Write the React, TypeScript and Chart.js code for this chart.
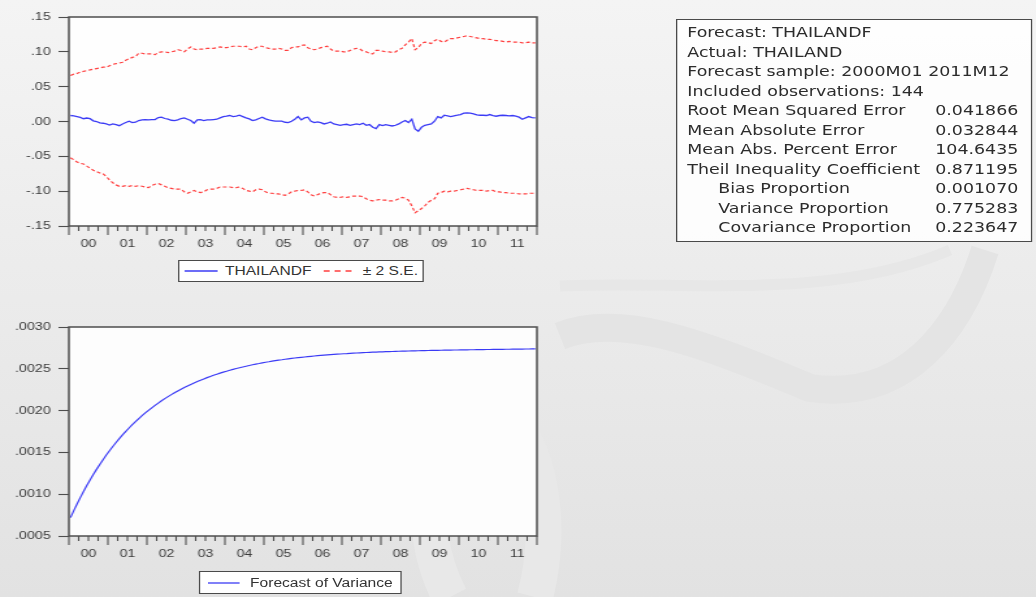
import React, { useEffect, useRef } from 'react';
import { Chart, registerables } from 'chart.js';

Chart.register(...registerables);

const STRETCH = 1.3;
const FONT = "'Liberation Sans', Arial, Helvetica, sans-serif";
const TEXT_FONT = "'DejaVu Sans', Verdana, sans-serif";

// ---- data (monthly, 2000M01 .. 2011M12) ----
const yearLabels = ['00', '01', '02', '03', '04', '05', '06', '07', '08', '09', '10', '11'];
const monthsPerYear = 12;
const monthsPerMinorTick = 3;

const forecast = [
  0.0086, 0.008, 0.007, 0.006, 0.004, 0.005, 0.004, 0.001, 0.0, -0.002, -0.0025, -0.0035,
  -0.005, -0.0035, -0.0045, -0.006, -0.0035, -0.0015, 0.0004, -0.0015, -0.001, 0.0014, 0.0023, 0.0028,
  0.0023, 0.0028, 0.0028, 0.0057, 0.0062, 0.0043, 0.0033, 0.0018, 0.0014, 0.0023, 0.0043, 0.0052,
  0.0033, 0.0014, -0.0025, 0.0023, 0.0028, 0.0014, 0.0023, 0.0023, 0.0028, 0.0033, 0.0052, 0.0071,
  0.0076, 0.0086, 0.0071, 0.0076, 0.009, 0.0071, 0.0052, 0.0038, 0.0014, 0.0023, 0.0043, 0.0062,
  0.0038, 0.0023, 0.0014, 0.0004, 0.0004, 0.0004, -0.0011, -0.0016, 0.0004, 0.0033, 0.0071, 0.0023,
  0.0052, 0.0062, 0.0004, -0.0016, -0.0006, -0.0016, -0.0035, -0.0025, -0.0006, -0.0035, -0.0044, -0.0054,
  -0.0044, -0.004, -0.0054, -0.0044, -0.0035, -0.0044, -0.0025, -0.0054, -0.0044, -0.0083, -0.0102, -0.0044,
  -0.0059, -0.0044, -0.0054, -0.0064, -0.0054, -0.0035, -0.0006, 0.0014, -0.0016, 0.0033, -0.0107, -0.014,
  -0.0083, -0.0054, -0.0044, -0.0035, 0.0004, 0.0071, 0.0052, 0.009, 0.0081, 0.0071, 0.0081, 0.009,
  0.01, 0.0119, 0.0124, 0.0119, 0.011, 0.0095, 0.009, 0.009, 0.0086, 0.01, 0.0086, 0.0076,
  0.0086, 0.009, 0.0086, 0.0081, 0.0086, 0.0076, 0.0062, 0.0033, 0.0052, 0.0071, 0.0057, 0.0052,
];

const upperBand = [
  0.066, 0.068, 0.069, 0.071, 0.072, 0.073, 0.074, 0.075, 0.076, 0.077, 0.078, 0.078,
  0.08, 0.082, 0.083, 0.084, 0.085, 0.088, 0.09, 0.092, 0.093, 0.098, 0.098, 0.097,
  0.097, 0.097, 0.096, 0.099, 0.1, 0.1, 0.099, 0.1, 0.101, 0.103, 0.102, 0.1,
  0.104, 0.107, 0.104, 0.103, 0.104, 0.104, 0.105, 0.105, 0.105, 0.106, 0.107, 0.106,
  0.106, 0.107, 0.108, 0.108, 0.108, 0.107, 0.108, 0.104, 0.103, 0.106, 0.108, 0.108,
  0.106, 0.105, 0.104, 0.104, 0.105, 0.104, 0.102, 0.102, 0.106, 0.107, 0.107, 0.109,
  0.11, 0.106, 0.104, 0.103, 0.104, 0.106, 0.107, 0.108, 0.104, 0.101, 0.101, 0.101,
  0.1, 0.1, 0.102, 0.104, 0.105, 0.104, 0.101, 0.1, 0.098, 0.097, 0.102, 0.102,
  0.101, 0.1, 0.1, 0.099, 0.1, 0.103, 0.105, 0.11, 0.114, 0.119, 0.103, 0.106,
  0.112, 0.114, 0.113, 0.112, 0.116, 0.118, 0.115, 0.114, 0.117, 0.119, 0.119, 0.12,
  0.121, 0.122, 0.123, 0.122, 0.121, 0.12, 0.119, 0.119, 0.118, 0.118, 0.117, 0.116,
  0.116, 0.115, 0.114, 0.115, 0.114, 0.114, 0.114, 0.113, 0.113, 0.114, 0.113, 0.113,
];

const lowerBand = [
  -0.052, -0.055, -0.058, -0.06, -0.061, -0.064, -0.067, -0.07, -0.072, -0.074, -0.075, -0.079,
  -0.084, -0.088, -0.091, -0.093, -0.093, -0.092, -0.093, -0.092, -0.093, -0.092, -0.093, -0.094,
  -0.095, -0.092, -0.09, -0.089, -0.091, -0.093, -0.095, -0.096, -0.097, -0.097, -0.097, -0.101,
  -0.103, -0.101, -0.099, -0.101, -0.102, -0.101, -0.098, -0.097, -0.097, -0.096, -0.094, -0.094,
  -0.094, -0.094, -0.095, -0.095, -0.094, -0.096, -0.099, -0.1, -0.101, -0.098, -0.097, -0.098,
  -0.101, -0.103, -0.103, -0.104, -0.104, -0.105, -0.106, -0.104, -0.101, -0.1, -0.099, -0.099,
  -0.098, -0.101, -0.105, -0.107, -0.105, -0.103, -0.102, -0.102, -0.105, -0.108, -0.109, -0.109,
  -0.108, -0.109, -0.108, -0.107, -0.107, -0.107, -0.108, -0.111, -0.113, -0.114, -0.113, -0.112,
  -0.113, -0.113, -0.114, -0.114, -0.113, -0.111, -0.109, -0.11, -0.113, -0.121, -0.131, -0.128,
  -0.125, -0.121, -0.116, -0.113, -0.111, -0.103, -0.102, -0.1, -0.101, -0.1, -0.1, -0.099,
  -0.098, -0.097, -0.096, -0.097, -0.098, -0.099, -0.099, -0.099, -0.1, -0.099, -0.099, -0.101,
  -0.101, -0.102, -0.102, -0.103, -0.103, -0.103, -0.104, -0.104, -0.104, -0.103, -0.103, -0.103,
];

const forecastVariance = [
  0.00072, 0.000803, 0.000883, 0.000959, 0.001033, 0.001103, 0.00117, 0.001235, 0.001297, 0.001356, 0.001413, 0.001468,
  0.00152, 0.00157, 0.001618, 0.001665, 0.001709, 0.001751, 0.001792, 0.001831, 0.001868, 0.001904, 0.001939, 0.001972,
  0.002003, 0.002033, 0.002062, 0.00209, 0.002117, 0.002143, 0.002167, 0.002191, 0.002213, 0.002235, 0.002256, 0.002276,
  0.002295, 0.002313, 0.002331, 0.002348, 0.002364, 0.002379, 0.002394, 0.002408, 0.002422, 0.002435, 0.002448, 0.00246,
  0.002471, 0.002482, 0.002493, 0.002503, 0.002513, 0.002522, 0.002531, 0.00254, 0.002548, 0.002556, 0.002563, 0.002571,
  0.002578, 0.002584, 0.002591, 0.002597, 0.002603, 0.002608, 0.002614, 0.002619, 0.002624, 0.002629, 0.002633, 0.002637,
  0.002641, 0.002645, 0.002649, 0.002653, 0.002657, 0.00266, 0.002663, 0.002666, 0.002669, 0.002672, 0.002675, 0.002677,
  0.00268, 0.002682, 0.002685, 0.002687, 0.002689, 0.002691, 0.002693, 0.002695, 0.002697, 0.002699, 0.0027, 0.002702,
  0.002703, 0.002705, 0.002706, 0.002707, 0.002709, 0.00271, 0.002711, 0.002712, 0.002713, 0.002714, 0.002715, 0.002716,
  0.002717, 0.002718, 0.002719, 0.00272, 0.00272, 0.002721, 0.002722, 0.002723, 0.002723, 0.002724, 0.002725, 0.002725,
  0.002726, 0.002727, 0.002727, 0.002728, 0.002728, 0.002729, 0.00273, 0.00273, 0.002731, 0.002731, 0.002732, 0.002732,
  0.002733, 0.002733, 0.002734, 0.002734, 0.002735, 0.002735, 0.002736, 0.002736, 0.002737, 0.002737, 0.002738, 0.002738,
];

const statsHeader = [
  'Forecast: THAILANDF',
  'Actual: THAILAND',
  'Forecast sample: 2000M01 2011M12',
  'Included observations: 144',
];
const statsLabels = [
  'Root Mean Squared Error',
  'Mean Absolute Error',
  'Mean Abs. Percent Error',
  'Theil Inequality Coefficient',
  'Bias Proportion',
  'Variance Proportion',
  'Covariance Proportion',
];
const statsValues = ['0.041866', '0.032844', '104.6435', '0.871195', '0.001070', '0.775283', '0.223647'];
const statsIndented = [false, false, false, false, true, true, true];

// ---- helpers ----
const toPoints = (arr: number[]) => arr.map((v, i) => ({ x: i + 0.5, y: v }));
const nMonths = yearLabels.length * monthsPerYear;

const evFrame = {
  id: 'evFrame',
  beforeDraw(chart: any) {
    const { ctx, chartArea: a } = chart;
    ctx.save();
    ctx.fillStyle = 'rgba(255,255,255,0.9)';
    ctx.fillRect(a.left, a.top, a.right - a.left, a.bottom - a.top);
    ctx.restore();
  },
  afterDraw(chart: any) {
    const { ctx, chartArea: a } = chart;
    const xs = chart.scales.x;
    ctx.save();
    ctx.strokeStyle = '#4e4e4e';
    ctx.lineWidth = 1.5;
    ctx.strokeRect(a.left, a.top, a.right - a.left, a.bottom - a.top);
    ctx.lineWidth = 1.1;
    for (let m = 0; m <= nMonths; m += monthsPerMinorTick) {
      const px = xs.getPixelForValue(m);
      const len = m % monthsPerYear === 0 ? 9 : 5;
      ctx.beginPath();
      ctx.moveTo(px, a.bottom);
      ctx.lineTo(px, a.bottom + len);
      ctx.stroke();
    }
    ctx.restore();
  },
};

const tickFont = { family: FONT, size: 11 };
const tickColor = '#3c3c3c';

function xScale() {
  return {
    type: 'linear',
    min: 0,
    max: nMonths,
    grid: { display: false, drawTicks: false },
    border: { display: false },
    afterBuildTicks: (s: any) => {
      s.ticks = yearLabels.map((_, k) => ({ value: k * monthsPerYear + monthsPerYear / 2 }));
    },
    ticks: {
      autoSkip: false,
      maxRotation: 0,
      padding: 11,
      font: tickFont,
      color: tickColor,
      callback: (v: number) => yearLabels[Math.round((v - monthsPerYear / 2) / monthsPerYear)],
    },
    afterFit: (s: any) => {
      s.height = 24;
    },
  };
}

function yScale(min: number, max: number, step: number, decimals: number) {
  return {
    min,
    max,
    border: { display: false },
    grid: { drawOnChartArea: false, drawTicks: true, tickLength: 8, color: '#4e4e4e', tickWidth: 1.1 },
    ticks: {
      stepSize: step,
      padding: 6,
      font: tickFont,
      color: tickColor,
      callback: (v: number) => {
        const s = Math.abs(v).toFixed(decimals).replace(/^0/, '');
        return (v < -1e-9 ? '-' : '') + s;
      },
    },
    afterFit: (s: any) => {
      s.width = 53;
    },
  };
}

function topConfig(): any {
  return {
    type: 'line',
    data: {
      datasets: [
        {
          label: 'THAILANDF',
          data: toPoints(forecast),
          borderColor: '#3b3bf5',
          borderWidth: 1.3,
          pointRadius: 0,
          tension: 0,
        },
        {
          label: '± 2 S.E.',
          data: toPoints(upperBand),
          borderColor: '#ff3f3f',
          borderWidth: 1.2,
          borderDash: [3, 2],
          pointRadius: 0,
          tension: 0,
        },
        {
          label: '± 2 S.E. (lower)',
          data: toPoints(lowerBand),
          borderColor: '#ff3f3f',
          borderWidth: 1.2,
          borderDash: [3, 2],
          pointRadius: 0,
          tension: 0,
        },
      ],
    },
    options: {
      animation: false,
      responsive: false,
      devicePixelRatio: 1,
      layout: { padding: { left: 0, top: 17, right: 27, bottom: 6 } },
      plugins: { legend: { display: false }, tooltip: { enabled: false } },
      scales: { x: xScale(), y: yScale(-0.15, 0.15, 0.05, 2) },
    },
    plugins: [evFrame],
  };
}

function bottomConfig(): any {
  return {
    type: 'line',
    data: {
      datasets: [
        {
          label: 'Forecast of Variance',
          data: toPoints(forecastVariance),
          borderColor: '#3b3bf5',
          borderWidth: 1.2,
          pointRadius: 0,
          tension: 0,
        },
      ],
    },
    options: {
      animation: false,
      responsive: false,
      devicePixelRatio: 1,
      layout: { padding: { left: 0, top: 27, right: 27, bottom: 6 } },
      plugins: { legend: { display: false }, tooltip: { enabled: false } },
      scales: { x: xScale(), y: yScale(0.0005, 0.003, 0.0005, 4) },
    },
    plugins: [evFrame],
  };
}

function ChartCanvas(props: { build: () => any; left: number; top: number; width: number; height: number }) {
  const ref = useRef<HTMLCanvasElement>(null);
  useEffect(() => {
    const chart = new Chart(ref.current as HTMLCanvasElement, props.build());
    return () => chart.destroy();
  }, []);
  return (
    <canvas
      ref={ref}
      width={props.width}
      height={props.height}
      style={{ position: 'absolute', left: props.left, top: props.top, width: props.width, height: props.height }}
    />
  );
}

function LineSample(props: { x1: number; x2: number; y: number; color: string; dash?: string }) {
  const w = props.x2 - props.x1;
  return (
    <svg
      width={w}
      height={4}
      style={{ position: 'absolute', left: props.x1, top: props.y - 2, overflow: 'visible' }}
    >
      <line x1={0} y1={2} x2={w} y2={2} stroke={props.color} strokeWidth={1.3} strokeDasharray={props.dash} />
    </svg>
  );
}

const legendText: React.CSSProperties = {
  position: 'absolute',
  fontFamily: FONT,
  fontSize: 12,
  color: '#333',
  whiteSpace: 'nowrap',
  lineHeight: '14px',
};

function Watermark() {
  return (
    <svg width={1036} height={597} style={{ position: 'absolute', left: 0, top: 0 }}>
      <g fill="none" strokeLinecap="butt">
        <path d="M 560 286 C 680 280, 830 302, 950 250" stroke="#e7e7e7" strokeWidth={11} />
        <path d="M 560 336 C 620 312, 700 342, 810 388 C 905 402, 960 330, 985 250" stroke="#e4e4e4" strokeWidth={28} />
        <path d="M 450 597 C 410 520, 430 430, 485 395 C 540 430, 555 520, 535 597" stroke="#e8e8e8" strokeWidth={36} />
      </g>
    </svg>
  );
}

export default function App() {
  const rowPitch = 19.5;
  const firstRowCenter = 33;
  const textSize = 13.4;
  const allRows = [...statsHeader.map((t) => ({ label: t, value: '', indent: false }))].concat(
    statsLabels.map((l, i) => ({ label: l, value: statsValues[i], indent: statsIndented[i] }))
  );
  return (
    <div
      style={{
        position: 'fixed',
        left: 0,
        top: 0,
        width: 1036,
        height: 597,
        overflow: 'hidden',
        background: 'linear-gradient(#f4f4f4, #e2e2e2)',
      }}
    >
      <Watermark />
      <div
        style={{
          position: 'absolute',
          left: 0,
          top: 0,
          width: 1036 / STRETCH,
          height: 597,
          transform: `scaleX(${STRETCH})`,
          transformOrigin: '0 0',
        }}
      >
        <ChartCanvas build={topConfig} left={0} top={0} width={440} height={256} />
        <ChartCanvas build={bottomConfig} left={0} top={300} width={440} height={266} />

        {/* top legend */}
        <div
          style={{
            position: 'absolute',
            left: 136.5,
            top: 260,
            width: 189,
            height: 21.5,
            boxSizing: 'border-box',
            border: '1.5px solid #4a4a4a',
            background: '#fff',
          }}
        />
        <LineSample x1={142.3} x2={167.7} y={270.7} color="#3b3bf5" />
        <div style={{ ...legendText, left: 173, top: 263.7 }}>THAILANDF</div>
        <LineSample x1={249.2} x2={271.3} y={270.7} color="#ff3f3f" dash="4.6 3.8" />
        <div style={{ ...legendText, left: 279, top: 263.7 }}>± 2 S.E.</div>

        {/* bottom legend */}
        <div
          style={{
            position: 'absolute',
            left: 152.5,
            top: 571,
            width: 156,
            height: 23,
            boxSizing: 'border-box',
            border: '1.5px solid #4a4a4a',
            background: '#fff',
          }}
        />
        <LineSample x1={160.3} x2={184.6} y={582.5} color="#3b3bf5" />
        <div style={{ ...legendText, left: 192.3, top: 575.5 }}>Forecast of Variance</div>

        {/* statistics box */}
        <div
          style={{
            position: 'absolute',
            left: 520,
            top: 19,
            width: 273.5,
            height: 223,
            boxSizing: 'border-box',
            border: '1.5px solid #4a4a4a',
            background: 'rgba(255,255,255,0.85)',
          }}
        />
        {allRows.map((r, k) => (
          <React.Fragment key={k}>
            <div
              style={{
                position: 'absolute',
                left: r.indent ? 552.5 : 528.7,
                top: firstRowCenter + k * rowPitch - rowPitch / 2,
                height: rowPitch,
                lineHeight: `${rowPitch}px`,
                fontFamily: TEXT_FONT,
                fontSize: textSize,
                color: '#2c2c2c',
                whiteSpace: 'nowrap',
              }}
            >
              {r.label}
            </div>
            {r.value ? (
              <div
                style={{
                  position: 'absolute',
                  right: 1036 / STRETCH - 783.3,
                  top: firstRowCenter + k * rowPitch - rowPitch / 2,
                  height: rowPitch,
                  lineHeight: `${rowPitch}px`,
                  fontFamily: TEXT_FONT,
                  fontSize: textSize,
                  color: '#2c2c2c',
                  whiteSpace: 'nowrap',
                  textAlign: 'right',
                }}
              >
                {r.value}
              </div>
            ) : null}
          </React.Fragment>
        ))}
      </div>
    </div>
  );
}
